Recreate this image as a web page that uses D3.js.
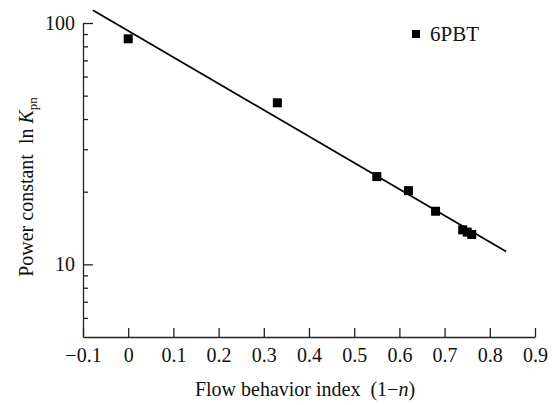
<!DOCTYPE html>
<html>
<head>
<meta charset="utf-8">
<script src="https://cdn.jsdelivr.net/npm/d3@7"></script>
<style>
  html, body { margin: 0; padding: 0; background: #fff; }
  svg text { font-family: "Liberation Serif", "DejaVu Serif", serif; fill: #111; }
</style>
</head>
<body>
<div id="chart"></div>
<script>
// data
const flowIndex = [0, 0.33, 0.55, 0.62, 0.68, 0.74, 0.75, 0.76];
const powerConst = [86, 46.7, 23.1, 20.2, 16.6, 13.9, 13.6, 13.3];
const fitX = [-0.078, 0.836];
const fitY = [113, 11.3];
const xTicks = [-0.1, 0, 0.1, 0.2, 0.3, 0.4, 0.5, 0.6, 0.7, 0.8, 0.9];
const xTickLabels = ["\u22120.1", "0", "0.1", "0.2", "0.3", "0.4", "0.5", "0.6", "0.7", "0.8", "0.9"];
const yMajor = [10, 100];
const yMinor = [6, 7, 8, 9, 20, 30, 40, 50, 60, 70, 80, 90];
const seriesName = "6PBT";

const width = 554;
const height = 405;
const margin = { top: 23, right: 19, bottom: 68, left: 83 };

const svg = d3.select("#chart").append("svg")
  .attr("width", width)
  .attr("height", height);

const x = d3.scaleLinear()
  .domain([-0.1, 0.9])
  .range([margin.left, width - margin.right]);

const y = d3.scaleLog()
  .domain([5, 100])
  .range([height - margin.bottom, margin.top]);

// x axis, ticks point up into the plot
svg.append("g")
  .attr("transform", `translate(0,${height - margin.bottom})`)
  .call(d3.axisBottom(x)
    .tickValues(xTicks)
    .tickFormat((d, i) => xTickLabels[i])
    .tickSizeInner(-9)
    .tickSizeOuter(0)
    .tickPadding(11));

// y axis minor ticks
svg.append("g")
  .attr("transform", `translate(${margin.left},0)`)
  .call(d3.axisLeft(y)
    .tickValues(yMinor)
    .tickFormat("")
    .tickSizeInner(-5)
    .tickSizeOuter(0))
  .call(g => g.select(".domain").remove());

// y axis major ticks + line
svg.append("g")
  .attr("transform", `translate(${margin.left},0)`)
  .call(d3.axisLeft(y)
    .tickValues(yMajor)
    .tickFormat(d3.format("d"))
    .tickSizeInner(-10)
    .tickSizeOuter(0)
    .tickPadding(8));

svg.selectAll(".tick line, .domain")
  .attr("stroke", "#222")
  .attr("stroke-width", 1.3);

svg.selectAll(".tick text")
  .style("font-size", "20px")
  .attr("fill", "#111");

// fitted line
const line = d3.line()
  .x(d => x(d[0]))
  .y(d => y(d[1]));

svg.append("path")
  .datum(fitX.map((v, i) => [v, fitY[i]]))
  .attr("d", line)
  .attr("fill", "none")
  .attr("stroke", "#000")
  .attr("stroke-width", 1.8);

// markers
const size = 9;
svg.append("g")
  .selectAll("rect")
  .data(flowIndex.map((v, i) => [v, powerConst[i]]))
  .join("rect")
  .attr("x", d => x(d[0]) - size / 2)
  .attr("y", d => y(d[1]) - size / 2)
  .attr("width", size)
  .attr("height", size)
  .attr("fill", "#000");

// legend
const legend = svg.append("g").attr("transform", "translate(416,34)");
legend.append("rect")
  .attr("x", -4).attr("y", -4)
  .attr("width", 8).attr("height", 8)
  .attr("fill", "#000");
legend.append("text")
  .attr("x", 14).attr("y", 7)
  .style("font-size", "21px")
  .text(seriesName);

// axis titles
const xTitle = svg.append("text")
  .attr("x", 305)
  .attr("y", 396)
  .attr("text-anchor", "middle")
  .style("font-size", "20px");
xTitle.append("tspan").text("Flow behavior index\u00a0\u00a0(1\u2212");
xTitle.append("tspan").style("font-style", "italic").text("n");
xTitle.append("tspan").text(")");

const yTitle = svg.append("text")
  .attr("transform", "translate(33,187) rotate(-90)")
  .attr("text-anchor", "middle")
  .style("font-size", "20px");
yTitle.append("tspan").text("Power constant\u00a0\u00a0ln\u00a0");
yTitle.append("tspan").style("font-style", "italic").text("K");
yTitle.append("tspan").attr("dy", 4).style("font-size", "13px").text("pn");
</script>
</body>
</html>
